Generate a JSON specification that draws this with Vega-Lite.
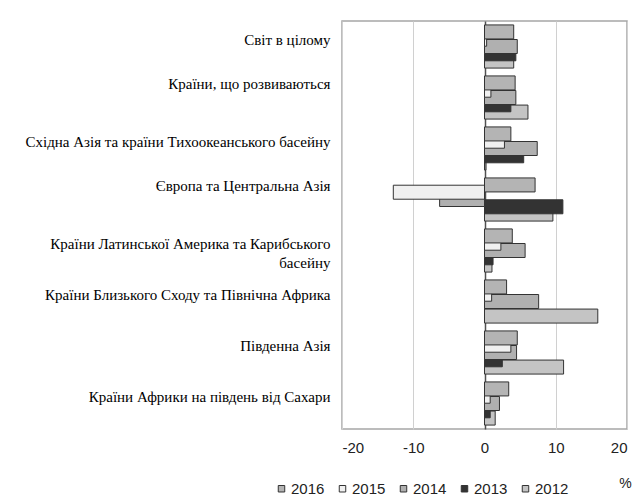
{
  "$schema": "https://vega.github.io/schema/vega-lite/v6.json",
  "width": 285,
  "height": 408,
  "autosize": {"type": "none"},
  "padding": {"left": 342, "top": 21, "right": 15, "bottom": 71},
  "background": "white",
  "config": {"view": {"stroke": "#a6a6a6", "strokeWidth": 1.5}},
  "data": {"values": [
    {"region": "Світ в цілому", "year": "2012", "value": 4.1},
    {"region": "Країни, що розвиваються", "year": "2012", "value": 6.1},
    {"region": "Східна Азія та країни Тихоокеанського басейну", "year": "2012", "value": 0.2},
    {"region": "Європа та Центральна Азія", "year": "2012", "value": 9.6},
    {"region": "Країни Латинської Америка та Карибського басейну", "year": "2012", "value": 1.05},
    {"region": "Країни Близького Сходу та Північна Африка", "year": "2012", "value": 15.9},
    {"region": "Південна Азія", "year": "2012", "value": 11.1},
    {"region": "Країни Африки на південь від Сахари", "year": "2012", "value": 1.5},
    {"region": "Світ в цілому", "year": "2013", "value": 4.4},
    {"region": "Країни, що розвиваються", "year": "2013", "value": 3.7},
    {"region": "Східна Азія та країни Тихоокеанського басейну", "year": "2013", "value": 5.5},
    {"region": "Європа та Центральна Азія", "year": "2013", "value": 11.0},
    {"region": "Країни Латинської Америка та Карибського басейну", "year": "2013", "value": 1.2},
    {"region": "Країни Близького Сходу та Північна Африка", "year": "2013", "value": 0},
    {"region": "Південна Азія", "year": "2013", "value": 2.5},
    {"region": "Країни Африки на південь від Сахари", "year": "2013", "value": 0.8},
    {"region": "Світ в цілому", "year": "2014", "value": 4.6},
    {"region": "Країни, що розвиваються", "year": "2014", "value": 4.4},
    {"region": "Східна Азія та країни Тихоокеанського басейну", "year": "2014", "value": 7.4},
    {"region": "Європа та Центральна Азія", "year": "2014", "value": -6.3},
    {"region": "Країни Латинської Америка та Карибського басейну", "year": "2014", "value": 5.7},
    {"region": "Країни Близького Сходу та Північна Африка", "year": "2014", "value": 7.6},
    {"region": "Південна Азія", "year": "2014", "value": 4.5},
    {"region": "Країни Африки на південь від Сахари", "year": "2014", "value": 2.1},
    {"region": "Світ в цілому", "year": "2015", "value": 0.3},
    {"region": "Країни, що розвиваються", "year": "2015", "value": 0.9},
    {"region": "Східна Азія та країни Тихоокеанського басейну", "year": "2015", "value": 2.8},
    {"region": "Європа та Центральна Азія", "year": "2015", "value": -12.8},
    {"region": "Країни Латинської Америка та Карибського басейну", "year": "2015", "value": 2.3},
    {"region": "Країни Близького Сходу та Північна Африка", "year": "2015", "value": 1.0},
    {"region": "Південна Азія", "year": "2015", "value": 3.7},
    {"region": "Країни Африки на південь від Сахари", "year": "2015", "value": 0.8},
    {"region": "Світ в цілому", "year": "2016", "value": 4.1},
    {"region": "Країни, що розвиваються", "year": "2016", "value": 4.3},
    {"region": "Східна Азія та країни Тихоокеанського басейну", "year": "2016", "value": 3.7},
    {"region": "Європа та Центральна Азія", "year": "2016", "value": 7.1},
    {"region": "Країни Латинської Америка та Карибського басейну", "year": "2016", "value": 3.9},
    {"region": "Країни Близького Сходу та Північна Африка", "year": "2016", "value": 3.1},
    {"region": "Південна Азія", "year": "2016", "value": 4.6},
    {"region": "Країни Африки на південь від Сахари", "year": "2016", "value": 3.4}
  ]},
  "mark": {"type": "bar", "height": 14, "stroke": "#333333", "strokeWidth": 1},
  "encoding": {
    "y": {
      "field": "region",
      "type": "nominal",
      "sort": ["Світ в цілому", "Країни, що розвиваються", "Східна Азія та країни Тихоокеанського басейну", "Європа та Центральна Азія", "Країни Латинської Америка та Карибського басейну", "Країни Близького Сходу та Північна Африка", "Південна Азія", "Країни Африки на південь від Сахари"],
      "scale": {"paddingInner": 0, "paddingOuter": 0},
      "axis": {
        "title": null,
        "domain": false,
        "ticks": false,
        "grid": false,
        "labelFont": "Times New Roman, Liberation Serif, serif",
        "labelFontSize": 15,
        "labelColor": "#000000",
        "labelPadding": 12,
        "labelLimit": 340,
        "labelOffset": {"condition": {"test": "datum.value == 'Країни, що розвиваються' || datum.value == 'Європа та Центральна Азія'", "value": -14}, "value": -7},
        "labelLineHeight": 19,
        "labelExpr": "datum.value == 'Країни Латинської Америка та Карибського басейну' ? ['Країни Латинської Америка та Карибського', 'басейну'] : datum.label"
      }
    },
    "yOffset": {
      "field": "year",
      "type": "nominal",
      "sort": ["2016", "2015", "2014", "2013", "2012"],
      "scale": {"paddingInner": 0, "paddingOuter": 1.14}
    },
    "x": {
      "field": "value",
      "type": "quantitative",
      "stack": null,
      "scale": {"domain": [-20, 20], "nice": false},
      "axis": {
        "values": [-20, -10, 0, 10, 20],
        "ticks": false,
        "domain": false,
        "grid": true,
        "gridColor": {"condition": {"test": "datum.value === 0", "value": "#505050"}, "value": "#d0d0d0"},
        "gridWidth": {"condition": {"test": "datum.value === 0", "value": 1.5}, "value": 1},
        "labelExpr": "replace(datum.label, '−', '-')",
        "labelFont": "Liberation Sans",
        "labelFontSize": 15,
        "labelColor": "#222222",
        "labelPadding": 11,
        "title": "%",
        "titleX": 283,
        "titleY": 58,
        "titleFont": "Liberation Sans",
        "titleFontSize": 14,
        "titleFontWeight": "normal",
        "titleColor": "#222222",
        "titleAlign": "center",
        "titleBaseline": "alphabetic"
      }
    },
    "color": {
      "field": "year",
      "type": "nominal",
      "sort": ["2016", "2015", "2014", "2013", "2012"],
      "scale": {"domain": ["2016", "2015", "2014", "2013", "2012"], "range": ["#b4b4b4", "#f0f0f0", "#b0b0b0", "#333333", "#c4c4c4"]},
      "legend": {
        "orient": "none",
        "legendX": -68,
        "legendY": 460,
        "direction": "horizontal",
        "columns": 5,
        "title": null,
        "symbolType": "square",
        "symbolSize": 42,
        "symbolStrokeColor": "#333333",
        "symbolStrokeWidth": 1,
        "labelFont": "Liberation Sans",
        "labelFontSize": 15,
        "labelColor": "#222222",
        "labelOffset": 2,
        "columnPadding": 10
      }
    }
  }
}
